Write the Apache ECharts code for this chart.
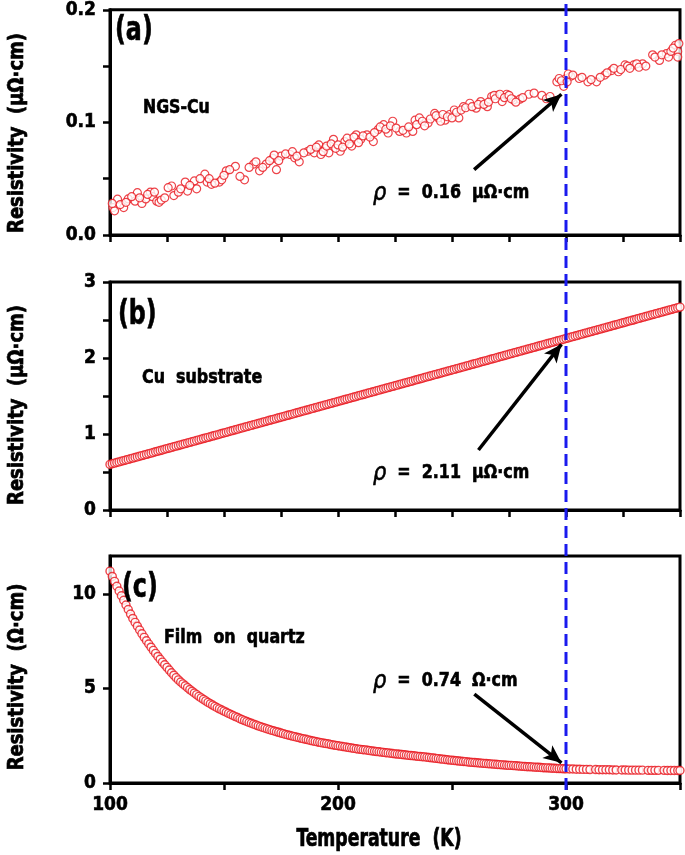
<!DOCTYPE html>
<html><head><meta charset="utf-8">
<script src="https://cdn.jsdelivr.net/npm/echarts/dist/echarts.min.js"></script>
<style>html,body{margin:0;padding:0;background:#fff}#c{width:685px;height:855px}</style>
</head><body><div id="c"></div>
<script>
// ---- Panel (a): NGS-Cu (scattered measurement) ----
const tempsA = [101.3,102,103.3,106,108,111,112,114,115.7,117.7,118.6,120.5,121.5,127,128,130,133,134,137,138,
141.6,142.6,144.5,148,149,151,155,159,163,165.6,168.5,171.4,173,175,179,181,183,186.8,189.6,191.6,
192.5,194.4,196,198,201,203,206,208,210,212.7,215.5,217.5,220,222,224,227,230,232.8,233.8,235.7,
239.5,242.4,244,247,249,251,253,255,257.8,260.6,262.6,265.5,267.4,270,272,274,277,279.8,283.7,289.4,
291.4,296,299,300,302,305.8,309.6,313.4,317,320,323,325.9,329.7,333.6,338,341,344,348,349,
101,104.5,107,109.5,113,116.5,119.5,122.5,124,125.5,131,135,139.5,143.5,146,150,152.5,157,161,164,
167,170,172,174,177,180,182,185,188,190.5,193.5,195,197,199,200,202,204,205,207,209,
211,214,216,218.5,221,223,225.5,228.5,231,234.5,237,238,240.5,243,245,246,248,250,252,254,
256,258.8,261.5,264,266,268.5,269,271,273,275,276,278,281,286,293,297,298,300.5,301,303,
307,311,315,318,321,324,327,328,331,332,335,339,342,345,346,347,349.5,349];
const rhoA = [0.0244,0.0215,0.0318,0.0244,0.032,0.030,0.0376,0.028,0.032,0.038,0.034,0.030,0.029,0.0435,0.035,0.038,0.047,0.039,0.048,0.041,
0.054,0.047,0.045,0.047,0.049,0.057,0.061,0.049,0.063,0.057,0.063,0.068,0.058,0.070,0.0715,0.0685,0.065,0.0744,0.073,0.080,
0.0715,0.077,0.073,0.085,0.0744,0.083,0.079,0.089,0.085,0.089,0.083,0.0935,0.098,0.0906,0.101,0.092,0.0906,0.092,0.102,0.104,
0.0994,0.108,0.104,0.102,0.107,0.111,0.104,0.114,0.117,0.1126,0.1185,0.114,0.123,0.124,0.1185,0.125,0.120,0.1206,0.125,0.124,
0.121,0.136,0.132,0.139,0.141,0.139,0.136,0.136,0.142,0.146,0.145,0.151,0.151,0.152,0.160,0.155,0.161,0.1685,0.163,
0.028,0.027,0.029,0.034,0.033,0.036,0.038,0.031,0.033,0.042,0.041,0.044,0.050,0.050,0.046,0.053,0.058,0.052,0.060,0.065,
0.060,0.066,0.071,0.066,0.072,0.074,0.070,0.073,0.076,0.078,0.074,0.079,0.081,0.077,0.080,0.078,0.086,0.081,0.087,0.082,
0.088,0.087,0.091,0.096,0.094,0.097,0.095,0.093,0.096,0.098,0.101,0.097,0.103,0.106,0.101,0.107,0.105,0.104,0.109,0.111,
0.113,0.114,0.116,0.116,0.118,0.124,0.121,0.125,0.122,0.124,0.121,0.118,0.122,0.126,0.123,0.139,0.137,0.136,0.143,0.142,
0.140,0.138,0.140,0.144,0.148,0.147,0.150,0.148,0.152,0.149,0.150,0.158,0.160,0.158,0.163,0.166,0.170,0.158];

// ---- Panel (b): Cu substrate ----
const tempsB = [100,101,102,103,104,105,106,107,108,109,110,111,112,113,114,115,116,117,118,119,
120,121,122,123,124,125,126,127,128,129,130,131,132,133,134,135,136,137,138,139,
140,141,142,143,144,145,146,147,148,149,150,151,152,153,154,155,156,157,158,159,
160,161,162,163,164,165,166,167,168,169,170,171,172,173,174,175,176,177,178,179,
180,181,182,183,184,185,186,187,188,189,190,191,192,193,194,195,196,197,198,199,
200,201,202,203,204,205,206,207,208,209,210,211,212,213,214,215,216,217,218,219,
220,221,222,223,224,225,226,227,228,229,230,231,232,233,234,235,236,237,238,239,
240,241,242,243,244,245,246,247,248,249,250,251,252,253,254,255,256,257,258,259,
260,261,262,263,264,265,266,267,268,269,270,271,272,273,274,275,276,277,278,279,
280,281,282,283,284,285,286,287,288,289,290,291,292,293,294,295,296,297,298,299,
300,301,302,303,304,305,306,307,308,309,310,311,312,313,314,315,316,317,318,319,
320,321,322,323,324,325,326,327,328,329,330,331,332,333,334,335,336,337,338,339,
340,341,342,343,344,345,346,347,348,349,350];
const rhoB = [0.600,0.608,0.617,0.625,0.633,0.641,0.650,0.658,0.666,0.675,
0.683,0.691,0.699,0.708,0.716,0.724,0.732,0.741,0.749,0.757,
0.766,0.774,0.782,0.790,0.799,0.807,0.815,0.824,0.832,0.840,
0.848,0.857,0.865,0.873,0.882,0.890,0.898,0.906,0.915,0.923,
0.931,0.940,0.948,0.956,0.964,0.973,0.981,0.989,0.997,1.006,
1.014,1.022,1.031,1.039,1.047,1.055,1.064,1.072,1.080,1.089,
1.097,1.105,1.113,1.122,1.130,1.138,1.146,1.155,1.163,1.171,
1.180,1.188,1.196,1.204,1.213,1.221,1.229,1.238,1.246,1.254,
1.262,1.271,1.279,1.287,1.296,1.304,1.312,1.320,1.329,1.337,
1.345,1.354,1.362,1.370,1.378,1.387,1.395,1.403,1.411,1.420,
1.428,1.436,1.445,1.453,1.461,1.469,1.478,1.486,1.494,1.503,
1.511,1.519,1.527,1.536,1.544,1.552,1.560,1.569,1.577,1.585,
1.594,1.602,1.610,1.618,1.627,1.635,1.643,1.652,1.660,1.668,
1.676,1.685,1.693,1.701,1.710,1.718,1.726,1.734,1.743,1.751,
1.759,1.768,1.776,1.784,1.792,1.801,1.809,1.817,1.825,1.834,
1.842,1.850,1.859,1.867,1.875,1.883,1.892,1.900,1.908,1.917,
1.925,1.933,1.941,1.950,1.958,1.966,1.974,1.983,1.991,1.999,
2.008,2.016,2.024,2.032,2.041,2.049,2.057,2.066,2.074,2.082,
2.090,2.099,2.107,2.115,2.124,2.132,2.140,2.148,2.157,2.165,
2.173,2.182,2.190,2.198,2.206,2.215,2.223,2.231,2.239,2.248,
2.256,2.264,2.273,2.281,2.289,2.297,2.306,2.314,2.322,2.331,
2.339,2.347,2.355,2.364,2.372,2.380,2.388,2.397,2.405,2.413,
2.422,2.430,2.438,2.446,2.455,2.463,2.471,2.480,2.488,2.496,
2.504,2.513,2.521,2.529,2.538,2.546,2.554,2.562,2.571,2.579,
2.587,2.596,2.604,2.612,2.620,2.629,2.637,2.645,2.653,2.662,
2.670];

// ---- Panel (c): film on quartz ----
const tempsC = [100,101,102,103,104,105,106,107,108,109,110,111,112,113,114,115,116,117,118,119,
120,121,122,123,124,125,126,127,128,129,130,131,132,133,134,135,136,137,138,139,
140,141,142,143,144,145,146,147,148,149,150,151,152,153,154,155,156,157,158,159,
160,161,162,163,164,165,166,167,168,169,170,171,172,173,174,175,176,177,178,179,
180,181,182,183,184,185,186,187,188,189,190,191,192,193,194,195,196,197,198,199,
200,201,202,203,204,205,206,207,208,209,210,211,212,213,214,215,216,217,218,219,
220,221,222,223,224,225,226,227,228,229,230,231,232,233,234,235,236,237,238,239,
240,241,242,243,244,245,246,247,248,249,250,251,252,253,254,255,256,257,258,259,
260,261,262,263,264,265,266,267,268,269,270,271,272,273,274,275,276,277,278,279,
280,281,282,283,284,285,286,287,288,289,290,291,292,293,294,295,296,297,298,299,
300,301.5,303,304.5,306,307.5,309,310.5,313,314.5,316,317.5,319,320.5,322,324.5,326,327.5,329,330.5,
332,333.5,336,337.5,339,340.5,343,344.5,346,347.5,349,350];
const rhoC = [11.20,10.92,10.66,10.40,10.15,9.90,9.66,9.41,9.17,8.93,
8.70,8.49,8.29,8.09,7.89,7.70,7.52,7.35,7.18,7.01,
6.85,6.69,6.54,6.39,6.25,6.11,5.97,5.83,5.70,5.57,
5.45,5.34,5.24,5.14,5.04,4.94,4.85,4.76,4.67,4.58,
4.50,4.42,4.34,4.26,4.19,4.12,4.05,3.98,3.92,3.86,
3.80,3.74,3.68,3.62,3.57,3.51,3.46,3.40,3.35,3.30,
3.25,3.20,3.16,3.11,3.07,3.02,2.98,2.94,2.90,2.86,
2.82,2.78,2.75,2.71,2.68,2.64,2.61,2.57,2.54,2.51,
2.48,2.45,2.42,2.39,2.36,2.33,2.31,2.28,2.25,2.22,
2.20,2.17,2.15,2.12,2.10,2.08,2.06,2.03,2.01,1.99,
1.97,1.95,1.93,1.91,1.89,1.87,1.85,1.83,1.81,1.79,
1.78,1.76,1.75,1.73,1.71,1.69,1.68,1.66,1.65,1.63,
1.62,1.60,1.59,1.57,1.56,1.54,1.53,1.52,1.51,1.49,
1.48,1.46,1.45,1.44,1.43,1.41,1.40,1.39,1.38,1.36,
1.35,1.33,1.32,1.30,1.29,1.27,1.26,1.24,1.23,1.21,
1.20,1.19,1.18,1.16,1.15,1.14,1.13,1.11,1.10,1.09,
1.08,1.07,1.06,1.05,1.04,1.03,1.02,1.01,1.00,0.99,
0.98,0.97,0.96,0.95,0.94,0.93,0.93,0.92,0.91,0.90,
0.89,0.88,0.87,0.86,0.86,0.85,0.84,0.83,0.83,0.82,
0.81,0.80,0.80,0.79,0.78,0.78,0.77,0.76,0.76,0.75,
0.75,0.74,0.74,0.73,0.73,0.72,0.72,0.71,0.71,0.70,0.70,0.70,0.70,0.69,0.69,0.69,0.69,0.68,0.68,0.68,
0.68,0.68,0.67,0.67,0.67,0.67,0.67,0.66,0.66,0.66,0.66,0.66];

// ---- ticks / labels ----
const xTickLabels = [100, 200, 300];
const yTicksA = [0, 0.1, 0.2];
const yTicksB = [0, 1, 2, 3];
const yTicksC = [0, 5, 10];
const markT = 300;
// annotation arrows [tailT, tailRho, headT, headRho]
const arrowA = [259.7, 0.058, 298, 0.125];
const arrowB = [261.6, 0.79, 298, 2.18];
const arrowC = [259.8, 4.7, 298, 1.07];

const FF = "'Liberation Sans Narrow','DejaVu Sans Condensed',sans-serif";
const RED = '#e8141b';
const chart = echarts.init(document.getElementById('c'), null, {renderer:'canvas'});

const grids = [
  {left:110, right:5, top:9, height:226},
  {left:110, right:5, top:282, height:228},
  {left:110, right:5, top:556, height:227},
  {left:110, right:5, top:0, height:790}
].map((g,i)=> Object.assign(g, i<3 ? {show:true, borderColor:'#000', borderWidth:3, backgroundColor:'transparent'} : {show:false}));

const heavy = {textBorderColor:'#000', textBorderWidth:0.6};

function xAx(gi, showLabels){
  return {gridIndex:gi, type:'value', min:100, max:350, interval:50,
    axisLine:{show:true, lineStyle:{color:'#000', width:3}},
    axisTick:{show:gi<3, inside:false, length:7, lineStyle:{color:'#000', width:2.5}},
    minorTick:{show:gi<2, splitNumber:2, length:7, lineStyle:{color:'#000', width:2.5}},
    splitLine:{show:false},
    axisLabel:Object.assign({show:showLabels, margin:13, color:'#000', fontFamily:FF, fontWeight:'bold', fontSize:19,
      formatter:v=> xTickLabels.indexOf(v)>=0 ? String(v) : ''}, heavy),
    show: gi<3
  };
}
function yAx(gi, min, max, interval, ticks, dec, minor){
  return {gridIndex:gi, type:'value', min:min, max:max, interval:interval,
    axisLine:{show:true, lineStyle:{color:'#000', width:3}},
    axisTick:{show:true, inside:false, length:7, lineStyle:{color:'#000', width:2.5}, customValues:ticks},
    minorTick:{show:minor, splitNumber:2, length:7, lineStyle:{color:'#000', width:2.5}},
    splitLine:{show:false},
    axisLabel:Object.assign({margin:14, color:'#000', fontFamily:FF, fontWeight:'bold', fontSize:19, customValues:ticks,
      formatter:v=> v.toFixed(dec)}, heavy)
  };
}

function scatter(gi, xs, ys, arrow, bw){
  return {type:'scatter', xAxisIndex:gi, yAxisIndex:gi, symbol:'circle', symbolSize:8,
    itemStyle:{color:'#fff', borderColor:RED, borderWidth:bw},
    data: xs.map((t,i)=>[t, ys[i]]),
    markLine:{silent:true, symbol:['none','arrow'], symbolSize:[12,18], animation:false,
      lineStyle:{color:'#000', width:3.5, type:'solid'}, label:{show:false},
      data:[[{coord:[arrow[0], arrow[1]]},{coord:[arrow[2], arrow[3]]}]]},
    z:3
  };
}

const txt = (x,y,text,size,sx)=>({type:'text', x:x, y:y, z:100, scaleX:sx||1,
  style:{text:text, fill:'#000', font:'bold '+size+'px '+FF, textVerticalAlign:'middle', stroke:'#000', lineWidth:0.6}});
const rho = (x,y,val)=>({type:'text', x:x, y:y, z:100, scaleX:0.93,
  style:{text:'{r|ρ}  =  '+val, fill:'#000', font:'bold 19px '+FF, textVerticalAlign:'middle', stroke:'#000', lineWidth:0.6,
    rich:{r:{font:'italic 25px '+FF, fill:'#000'}}}});
const yName = (y,text)=>({type:'text', x:18, y:y, z:100, rotation:Math.PI/2, scaleX:0.95,
  style:{text:text, fill:'#000', font:'bold 21px '+FF, textAlign:'center', textVerticalAlign:'middle', stroke:'#000', lineWidth:0.7}});

chart.setOption({
  animation:false,
  backgroundColor:'#fff',
  grid: grids,
  xAxis:[xAx(0,false), xAx(1,false), xAx(2,true), xAx(3,false)],
  yAxis:[
    yAx(0, 0, 0.2, 0.1, yTicksA, 1, true),
    yAx(1, 0, 3, 1, yTicksB, 0, true),
    yAx(2, 0, 12, 5, yTicksC, 0, false),
    {gridIndex:3, type:'value', min:0, max:1, show:false}
  ],
  series:[
    scatter(0, tempsA, rhoA, arrowA, 1.2),
    scatter(1, tempsB, rhoB, arrowB, 1.4),
    scatter(2, tempsC, rhoC, arrowC, 1.4),
    {type:'line', xAxisIndex:3, yAxisIndex:3, symbol:'none', z:10,
     lineStyle:{color:'#1a1aee', width:3, type:[12,6]},
     data:[[markT,0],[markT,1]]}
  ],
  graphic:[
    yName(133,'Resistivity  (μΩ·cm)'),
    yName(405,'Resistivity  (μΩ·cm)'),
    yName(677,'Resistivity  (Ω·cm)'),
    txt(115,31,'(a)',33,0.8),
    txt(143,108,'NGS-Cu',19,0.92),
    rho(373,193,'0.16  μΩ·cm'),
    txt(118,315,'(b)',33,0.8),
    txt(142,378,'Cu  substrate',19,0.93),
    rho(373,473,'2.11  μΩ·cm'),
    txt(122,588,'(c)',33,0.8),
    txt(164,638,'Film  on  quartz',19,0.93),
    rho(373,681,'0.74  Ω·cm'),
    {type:'text', x:379, y:840, z:100, scaleX:0.8, style:{text:'Temperature  (K)', fill:'#000', font:'bold 24px '+FF, textAlign:'center', textVerticalAlign:'middle', stroke:'#000', lineWidth:0.7}}
  ]
});
</script></body></html>
